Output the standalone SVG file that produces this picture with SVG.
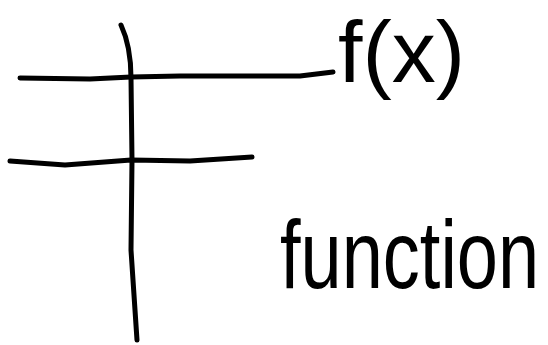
<svg xmlns="http://www.w3.org/2000/svg" width="548" height="345" viewBox="0 0 548 345">
<style>
.ln{fill:none;stroke:#000;stroke-width:5;stroke-linecap:round;stroke-linejoin:round}
.lbl{font-family:"Liberation Sans",Arial,sans-serif;fill:#000}
</style>
<rect width="548" height="345" fill="#fff"/>
<g id="connectors">
<path class="ln" d="M121,25 C128,40 131,58 131,78 L132,160 L131,250 L137,340"/>
<path class="ln" d="M20,78 L90,79 L131,77 L180,76 L300,76 L333,72"/>
<path class="ln" d="M10,161 L65,165 L131,160 L190,161 L252,157"/>
</g>
<g id="fx"><text class="lbl" x="338" y="82" font-size="88">f(x)</text></g>
<g id="function"><text class="lbl" transform="translate(280,288) scale(1,1.3)" x="0" y="0" font-size="74">function</text></g>
</svg>
